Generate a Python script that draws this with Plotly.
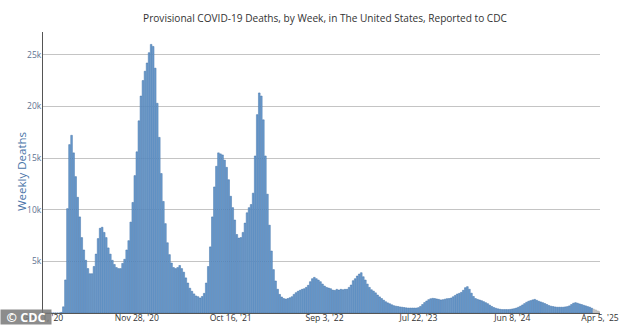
import pandas as pd
import plotly.graph_objects as go

# Week-ending dates: weekly from Jan 11, 2020 to Apr 5, 2025
start_week = "2020-01-11"
end_week = "2025-04-05"

weekly_deaths = [
    0, 0, 0, 0, 0, 0, 0, 0, 0, 60,
    600, 3200, 10100, 16300, 17200, 15500, 13200, 11200, 9300, 7300,
    6100, 5100, 4300, 3800, 3800, 4500, 5700, 7200, 8200, 8300,
    7800, 7300, 6300, 5700, 5100, 4700, 4400, 4300, 4300, 4800,
    5200, 6100, 7000, 8800, 10700, 13300, 15600, 18600, 21000, 22500,
    23400, 24200, 25200, 26000, 25800, 23700, 20300, 17000, 13500, 10800,
    8650, 6800, 5650, 4840, 4400, 4300, 4400, 4600, 4300, 3950,
    3400, 2900, 2400, 2100, 1850, 1650, 1580, 1450, 1600, 1900,
    2900, 4500, 6400, 9300, 12200, 14200, 15500, 15400, 15300, 14800,
    14100, 12900, 11300, 10200, 9000, 7600, 7250, 7300, 7800, 8700,
    9700, 10200, 10500, 11600, 15200, 19200, 21300, 21000, 18700, 15200,
    11500, 8500, 6000, 4200, 3100, 2300, 1800, 1550, 1400, 1350,
    1400, 1480, 1580, 1800, 1970, 2100, 2200, 2290, 2350, 2480,
    2680, 3030, 3320, 3450, 3320, 3190, 3030, 2800, 2610, 2480,
    2420, 2350, 2220, 2190, 2290, 2220, 2290, 2250, 2290, 2290,
    2480, 2710, 3130, 3320, 3580, 3770, 3900, 3510, 3190, 2800,
    2480, 2250, 2120, 1950, 1740, 1560, 1400, 1240, 1090, 980,
    890, 790, 710, 660, 630, 590, 560, 530, 500, 480,
    480, 480, 480, 480, 520, 640, 820, 1010, 1160, 1290,
    1380, 1420, 1400, 1360, 1320, 1270, 1290, 1340, 1390, 1400,
    1450, 1570, 1700, 1830, 1900, 2000, 2200, 2450, 2550, 2300,
    1920, 1600, 1400, 1320, 1260, 1190, 1100, 1000, 900, 760,
    630, 530, 460, 400, 360, 330, 330, 330, 330, 350,
    390, 420, 480, 560, 660, 780, 910, 1040, 1140, 1200,
    1270, 1320, 1230, 1140, 1070, 1000, 910, 820, 720, 660,
    620, 590, 560, 560, 560, 560, 590, 620, 690, 820,
    950, 1000, 950, 880, 820, 750, 690, 620, 560, 460,
    360, 290, 190, 120,
]
n_incomplete = 4  # most recent weeks shown in grey (incomplete data)

tick_dates = ["2020-01-11", "2020-11-28", "2021-10-16", "2022-09-03",
              "2023-07-22", "2024-06-08", "2025-04-05"]
tick_labels = ["Jan 11, '20", "Nov 28, '20", "Oct 16, '21", "Sep 3, '22",
               "Jul 22, '23", "Jun 8, '24", "Apr 5, '25"]

y_ticks = [5000, 10000, 15000, 20000, 25000]
y_tick_labels = ["5k", "10k", "15k", "20k", "25k"]

weeks = pd.date_range(start_week, end_week, freq="7D")
assert len(weeks) == len(weekly_deaths), (len(weeks), len(weekly_deaths))

n_complete = len(weekly_deaths) - n_incomplete
week_ms = 7 * 24 * 3600 * 1000

PL, PR, PT, PB = 43, 34, 32, 12
plot_w = 634 - PL - PR
plot_h = 325 - PT - PB

fig = go.Figure()
fig.add_trace(go.Bar(
    x=weeks[:n_complete], y=weekly_deaths[:n_complete],
    width=week_ms * 0.82,
    marker=dict(color="#6c9dcf", line=dict(color="#4272a8", width=0.5)),
    showlegend=False,
))
fig.add_trace(go.Bar(
    x=weeks[n_complete:], y=weekly_deaths[n_complete:],
    width=week_ms * 0.82,
    marker=dict(color="#c9c9c9", line=dict(color="#a8a8a8", width=0.5)),
    showlegend=False,
))

fig.update_layout(
    width=634, height=325,
    margin=dict(l=PL, r=PR, t=PT, b=PB, autoexpand=False),
    paper_bgcolor="white", plot_bgcolor="white",
    font=dict(family="Open Sans, sans-serif"),
    title=dict(
        text="Provisional COVID-19 Deaths, by Week, in The United States, Reported to CDC",
        xref="container", x=325 / 634, xanchor="center",
        y=1 - 18 / 325, yanchor="middle",
        font=dict(size=10.1, color="#333333"),
    ),
    barmode="overlay",
    xaxis=dict(
        type="date", automargin=False,
        range=[start_week, end_week],
        tickvals=tick_dates, ticktext=tick_labels,
        tickfont=dict(size=8.6, color="#333333"),
        showgrid=False, zeroline=False,
        showline=True, linecolor="#555555", linewidth=1,
        ticks="", ticklen=0,
    ),
    yaxis=dict(
        automargin=False,
        range=[0, 27200],
        tickvals=y_ticks, ticktext=y_tick_labels,
        tickfont=dict(size=8.5, color="#5f7391"),
        showgrid=True, gridcolor="#c4c4c4", gridwidth=1,
        zeroline=False,
        showline=True, linecolor="#555555", linewidth=1,
        ticks="", ticklen=0,
    ),
    annotations=[
        dict(
            text="Weekly Deaths", xref="paper", yref="paper",
            x=-(PL - 21) / plot_w, y=(313 - 172) / plot_h,
            xanchor="center", yanchor="middle", textangle=-90,
            showarrow=False, font=dict(size=11.5, color="#4a74a8"),
        ),
        dict(
            text="<b>©&nbsp;CDC</b>", xref="paper", yref="paper",
            x=-PL / plot_w, y=-PB / plot_h, xanchor="left", yanchor="bottom",
            showarrow=False, font=dict(size=12.5, color="white"),
            bgcolor="rgba(120,120,120,0.85)", borderpad=0,
            width=50, height=14, align="center",
        ),
    ],
)

try:
    fig.update_xaxes(ticklabelstandoff=-3)
except Exception:
    pass
try:
    fig.update_yaxes(ticklabelstandoff=-1)
except Exception:
    pass

fig.write_html("out.html")
